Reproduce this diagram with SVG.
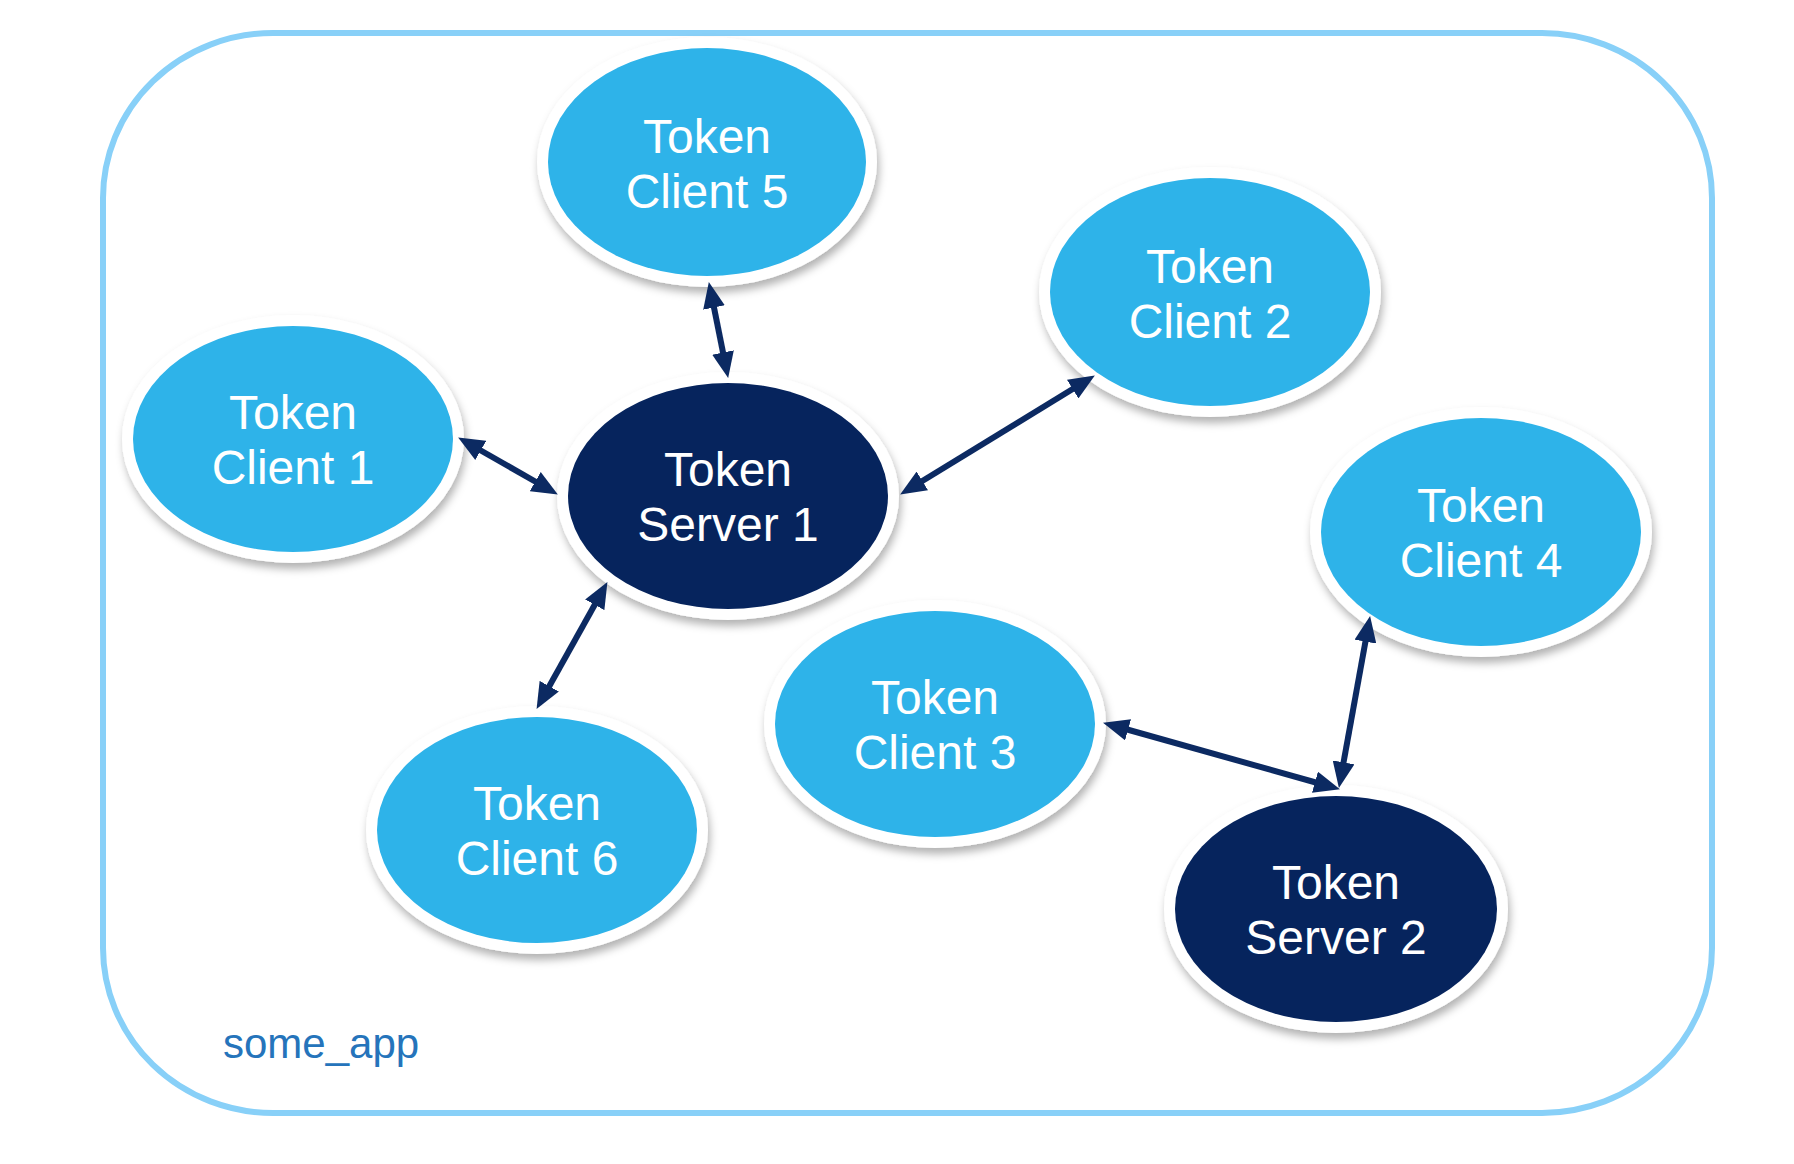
<svg xmlns="http://www.w3.org/2000/svg" width="1794" height="1164" viewBox="0 0 1794 1164">
<defs>
<filter id="sh" x="-20%" y="-20%" width="140%" height="150%">
<feDropShadow dx="2" dy="6" stdDeviation="4" flood-color="#000" flood-opacity="0.3"/>
</filter>
<marker id="ah" viewBox="0 0 26 22" markerWidth="26" markerHeight="22" refX="12" refY="11" markerUnits="userSpaceOnUse" orient="auto-start-reverse">
<path d="M0,0 L26,11 L0,22 z" fill="#0c2a62"/>
</marker>
</defs>
<style>
.ring{fill:#ffffff;filter:url(#sh)}
.client{fill:#2eb3e9}
.server{fill:#06245d}
.lbl{font-family:"Liberation Sans",Arial,sans-serif;font-size:48px;fill:#ffffff;text-anchor:middle}
.conn line{stroke:#0c2a62;stroke-width:6;marker-start:url(#ah);marker-end:url(#ah)}
</style>
<rect x="103" y="33" width="1609" height="1080" rx="170" ry="165" fill="#ffffff" stroke="#88d0f8" stroke-width="6"/>
<text x="223" y="1058" font-family="Liberation Sans, Arial, sans-serif" font-size="42" fill="#2574bb">some_app</text>

<g id="client5">
<ellipse class="ring" cx="707" cy="162" rx="170" ry="125"/>
<ellipse class="client" cx="707" cy="162" rx="159" ry="114"/>
<text class="lbl" x="707" y="153">Token</text>
<text class="lbl" x="707" y="208">Client 5</text>
</g>
<g id="client2">
<ellipse class="ring" cx="1210" cy="292" rx="171" ry="125"/>
<ellipse class="client" cx="1210" cy="292" rx="160" ry="114"/>
<text class="lbl" x="1210" y="283">Token</text>
<text class="lbl" x="1210" y="338">Client 2</text>
</g>
<g id="client1">
<ellipse class="ring" cx="293" cy="439" rx="171" ry="124"/>
<ellipse class="client" cx="293" cy="439" rx="160" ry="113"/>
<text class="lbl" x="293" y="429">Token</text>
<text class="lbl" x="293" y="484">Client 1</text>
</g>
<g id="server1">
<ellipse class="ring" cx="728" cy="496" rx="171" ry="124"/>
<ellipse class="server" cx="728" cy="496" rx="160" ry="113"/>
<text class="lbl" x="728" y="486">Token</text>
<text class="lbl" x="728" y="541">Server 1</text>
</g>
<g id="client4">
<ellipse class="ring" cx="1481" cy="532" rx="171" ry="125"/>
<ellipse class="client" cx="1481" cy="532" rx="160" ry="114"/>
<text class="lbl" x="1481" y="522">Token</text>
<text class="lbl" x="1481" y="577">Client 4</text>
</g>
<g id="client3">
<ellipse class="ring" cx="935" cy="724" rx="171" ry="124"/>
<ellipse class="client" cx="935" cy="724" rx="160" ry="113"/>
<text class="lbl" x="935" y="714">Token</text>
<text class="lbl" x="935" y="769">Client 3</text>
</g>
<g id="client6">
<ellipse class="ring" cx="537" cy="830" rx="171" ry="124"/>
<ellipse class="client" cx="537" cy="830" rx="160" ry="113"/>
<text class="lbl" x="537" y="820">Token</text>
<text class="lbl" x="537" y="875">Client 6</text>
</g>
<g id="server2">
<ellipse class="ring" cx="1336" cy="909" rx="172" ry="124"/>
<ellipse class="server" cx="1336" cy="909" rx="161" ry="113"/>
<text class="lbl" x="1336" y="899">Token</text>
<text class="lbl" x="1336" y="954">Server 2</text>
</g>

<g id="connectors" class="conn">
<line x1="711.6" y1="295.7" x2="725.4" y2="364.3"/>
<line x1="470.3" y1="444.5" x2="545.7" y2="487.5"/>
<line x1="912.1" y1="487.2" x2="1082.9" y2="382.8"/>
<line x1="600.6" y1="594.3" x2="543.4" y2="696.7"/>
<line x1="1116.5" y1="726.5" x2="1326.5" y2="785.5"/>
<line x1="1367.6" y1="629.8" x2="1341.4" y2="774.2"/>
</g>
</svg>
